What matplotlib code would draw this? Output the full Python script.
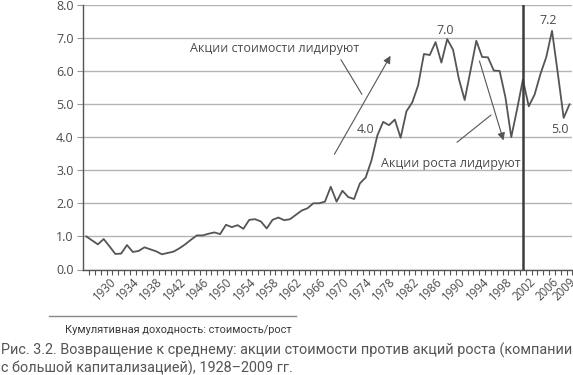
import matplotlib.pyplot as plt
import matplotlib.transforms as mtransforms
import numpy as np

# годовые данные: кумулятивная доходность стоимость/рост
years = list(range(1926, 2010))
ratio = [1.00, 0.88, 0.76, 0.92, 0.70, 0.47, 0.48, 0.74, 0.53, 0.56,
         0.67, 0.61, 0.55, 0.46, 0.50, 0.54, 0.64, 0.76, 0.90, 1.03,
         1.03, 1.08, 1.12, 1.07, 1.35, 1.28, 1.34, 1.23, 1.50, 1.52,
         1.45, 1.24, 1.50, 1.57, 1.49, 1.52, 1.65, 1.78, 1.85, 2.00,
         2.00, 2.05, 2.50, 2.05, 2.38, 2.19, 2.13, 2.60, 2.78, 3.30,
         4.05, 4.46, 4.36, 4.53, 3.98, 4.78, 5.05, 5.56, 6.51, 6.48,
         6.87, 6.25, 6.96, 6.64, 5.76, 5.12, 6.01, 6.91, 6.42, 6.41,
         6.01, 6.00, 5.20, 4.00, 4.84, 5.74, 4.93, 5.28, 5.90, 6.41,
         7.21, 5.92, 4.58, 4.99]
label_years = list(range(1930, 2007, 4)) + [2009]
split_year = 2001
point_labels = [("7.0", 1987.6, 7.23), ("7.2", 2005.4, 7.53),
                ("5.0", 2007.4, 4.24), ("4.0", 1973.9, 4.24)]

line_col = '#555555'
text_col = '#4a4a4a'

fig = plt.figure(figsize=(5.73, 3.75), dpi=100)
ax = fig.add_axes([83.3 / 573, 1 - 269.5 / 375, (572.4 - 83.3) / 573, (269.5 - 4.7) / 375])

ax.plot(years, ratio, color=line_col, lw=1.3, zorder=3)
ax.axvline(split_year, color='#3c3c3c', lw=1.8, zorder=4)

ax.set_xlim(1925.5, 2009.5)
ax.set_ylim(0, 8)
ax.set_yticks(np.arange(0, 9, 1))
ax.set_yticklabels([f"{v:.1f}" for v in np.arange(0, 9, 1)])
ax.grid(axis='y', color='#b4b4b4', lw=1.0, zorder=1)
ax.set_axisbelow(True)

ax.set_xticks(label_years)
ax.set_xticklabels([str(y) for y in label_years], rotation=45, ha='right',
                   rotation_mode='anchor', fontsize=8.3, color=text_col, family='Open Sans')
shift = mtransforms.ScaledTranslation(-3 / 100, 0, fig.dpi_scale_trans)
for lab in ax.get_xticklabels():
    lab.set_transform(lab.get_transform() + shift)
ax.tick_params(axis='x', which='major', length=0, pad=4)
ax.set_xticks(np.arange(1926.5, 2010, 1), minor=True)
ax.tick_params(axis='x', which='minor', length=3.5, width=0.8, color=line_col, direction='out')
ax.tick_params(axis='y', length=4, width=0.8, color='#999999', pad=3,
               labelsize=9, labelcolor=text_col)
for lab in ax.get_yticklabels():
    lab.set_family('Open Sans')

for s in ['top', 'right']:
    ax.spines[s].set_visible(False)
ax.spines['left'].set_color(line_col)
ax.spines['bottom'].set_color(line_col)
ax.spines['left'].set_linewidth(1.0)
ax.spines['bottom'].set_linewidth(1.0)

# подписи и стрелки
arrow = dict(arrowstyle='-|>', color=line_col, lw=0.8, mutation_scale=11)
plain = dict(arrowstyle='-', color=line_col, lw=0.8)
ax.annotate('', xy=(1978.5, 6.53), xytext=(1968.4, 3.41), arrowprops=arrow)
ax.annotate('', xy=(1973.6, 5.22), xytext=(1969.5, 6.41), arrowprops=plain)
ax.text(1958.3, 6.67, 'Акции стоимости лидируют', ha='center', va='center',
        fontsize=9, color=text_col, family='Open Sans')
ax.annotate('', xy=(1997.8, 3.82), xytext=(1993.4, 6.38), arrowprops=arrow)
ax.annotate('', xy=(1995.9, 4.72), xytext=(1989.3, 3.79), arrowprops=plain)
ax.text(1988.7, 3.21, 'Акции роста лидируют', ha='center', va='center',
        fontsize=9, color=text_col, family='Open Sans')
for txt, x, y in point_labels:
    ax.text(x, y, txt, ha='center', va='center', fontsize=9, color=text_col, family='Open Sans')

# подпись под осью и название рисунка
fig.add_artist(plt.Line2D([49 / 573, 296 / 573], [1 - 316 / 375] * 2, color='#888888', lw=1.0))
fig.text(65 / 573, 1 - 330 / 375, 'Кумулятивная доходность: стоимость/рост', ha='left', va='center',
         fontsize=7.9, color='#3a3a3a', family='Roboto')
fig.text(1 / 573, 1 - 350 / 375, 'Рис. 3.2. Возвращение к среднему: акции стоимости против акций роста (компании',
         ha='left', va='center', fontsize=10.4, color='#555555', family='Roboto')
fig.text(1 / 573, 1 - 368 / 375, 'с большой капитализацией), 1928–2009 гг.',
         ha='left', va='center', fontsize=10.4, color='#555555', family='Roboto')

fig.savefig('out.png', dpi=100)
